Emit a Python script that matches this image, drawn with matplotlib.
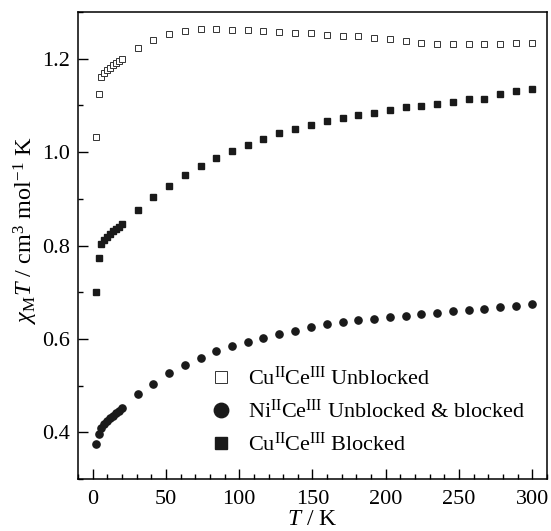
"""磁化率 χMT-T 曲线"""

import matplotlib
matplotlib.use("Agg")
from matplotlib import pyplot as plt
from matplotlib.ticker import MultipleLocator

plt.rcParams['font.family'] = ['Liberation Serif', 'DejaVu Serif']
plt.rcParams['mathtext.fontset'] = 'custom'
plt.rcParams['mathtext.rm'] = 'Liberation Serif'
plt.rcParams['mathtext.it'] = 'Liberation Serif:italic'
plt.rcParams['mathtext.bf'] = 'Liberation Serif:bold'

# 温度 (K)
temp = [2, 4, 6, 8, 10, 12, 14, 16, 18, 20,
        31, 41, 52, 63, 74, 84, 95, 106, 116, 127, 138, 149, 160,
        171, 181, 192, 203, 214, 224, 235, 246, 257, 267, 278, 289, 300]

# CuCe 未封端
cu_unblocked = [1.032, 1.124, 1.160, 1.170, 1.176, 1.181, 1.186, 1.190, 1.195, 1.200,
                1.223, 1.241, 1.253, 1.259, 1.263, 1.263, 1.262, 1.261, 1.260, 1.258,
                1.255, 1.254, 1.250, 1.249, 1.248, 1.244, 1.242, 1.238, 1.233, 1.232,
                1.231, 1.231, 1.231, 1.231, 1.233, 1.233]

# NiCe 未封端与封端
ni_both = [0.376, 0.397, 0.410, 0.418, 0.424, 0.430, 0.436, 0.441, 0.446, 0.452,
           0.481, 0.504, 0.526, 0.544, 0.560, 0.574, 0.585, 0.594, 0.603, 0.610,
           0.618, 0.625, 0.632, 0.637, 0.640, 0.643, 0.647, 0.650, 0.653, 0.656,
           0.659, 0.661, 0.665, 0.668, 0.671, 0.675]

# CuCe 封端
cu_blocked = [0.700, 0.774, 0.803, 0.812, 0.818, 0.824, 0.830, 0.835, 0.840, 0.846,
              0.876, 0.904, 0.928, 0.950, 0.970, 0.988, 1.002, 1.015, 1.029, 1.040,
              1.050, 1.059, 1.066, 1.074, 1.079, 1.084, 1.091, 1.096, 1.098, 1.102,
              1.107, 1.113, 1.114, 1.124, 1.131, 1.136]

labels = [r'Cu$^{\rm II}$Ce$^{\rm III}$ Unblocked',
          r'Ni$^{\rm II}$Ce$^{\rm III}$ Unblocked & blocked',
          r'Cu$^{\rm II}$Ce$^{\rm III}$ Blocked']

fig = plt.figure(figsize=(5.51, 5.31), dpi=100)
ax = fig.add_axes([0.1416, 0.0979, 0.8511, 0.8795])

ax.plot(temp, cu_unblocked, 's', ms=4.2, mfc='white', mec='#333333', mew=0.7, label=labels[0])
ax.plot(temp, ni_both, 'o', ms=5.2, color='#1a1a1a', mec='#1a1a1a', label=labels[1])
ax.plot(temp, cu_blocked, 's', ms=4.6, color='#1a1a1a', mec='#1a1a1a', label=labels[2])

ax.set_xlim(-10, 310)
ax.set_ylim(0.3, 1.3)
ax.xaxis.set_major_locator(MultipleLocator(50))
ax.xaxis.set_minor_locator(MultipleLocator(10))
ax.yaxis.set_major_locator(MultipleLocator(0.2))
ax.yaxis.set_minor_locator(MultipleLocator(0.1))
ax.tick_params(which='both', direction='in', top=False, right=False, labelsize=16, width=1)
ax.tick_params(which='major', length=7)
ax.tick_params(axis='y', which='major', pad=5.5)
ax.tick_params(axis='x', which='major', pad=8)
ax.tick_params(which='minor', length=3.5)
for sp in ax.spines.values():
    sp.set_linewidth(1.1)

ax.set_xlabel(r'$T$ / K', fontsize=17, labelpad=0)
ax.set_ylabel(r'$\chi_{\rm M}T$ / cm$^3$ mol$^{-1}$ K', fontsize=17.5)
ax.yaxis.set_label_coords(-0.082, 0.533)

ax.legend(loc='upper left', bbox_to_anchor=(0.26, 0.264), frameon=False, fontsize=16,
          markerscale=2.0, handlelength=0.9, handletextpad=0.75, borderpad=0,
          labelspacing=0.44)

fig.savefig('out.png', dpi=100)
